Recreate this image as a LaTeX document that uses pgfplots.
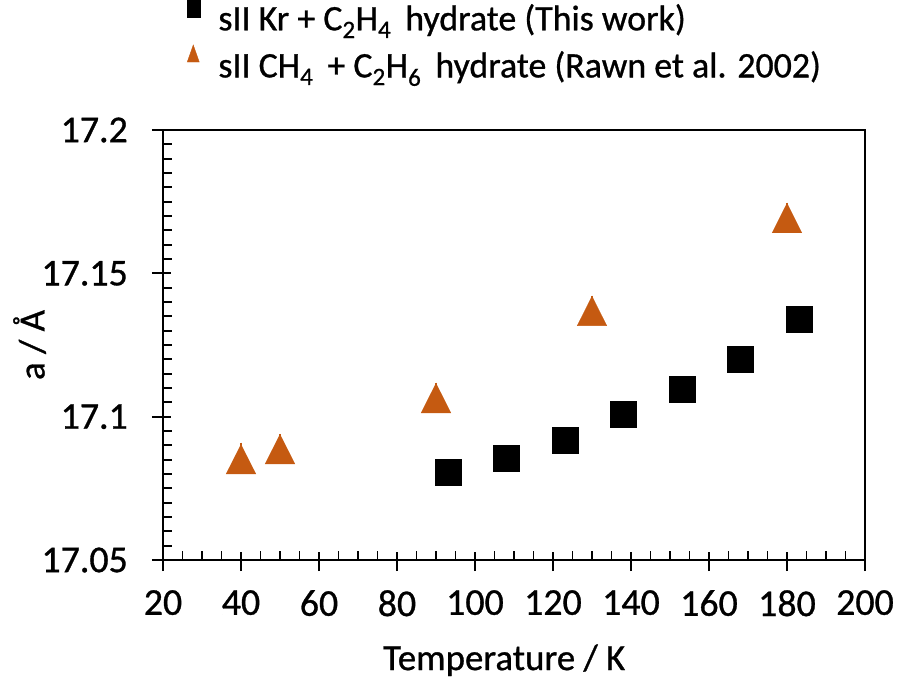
\documentclass[border=0pt]{standalone}
\usepackage{fontspec}
\setmainfont{Carlito}[UprightFeatures={FakeBold=0.8}]
\usepackage{pgfplots}
\pgfplotsset{compat=1.18}
\definecolor{exorange}{RGB}{197,90,17}
\begin{document}
\begin{tikzpicture}
\path[use as bounding box] (-163bp,-119bp) rectangle (735bp,560bp);
\begin{axis}[
  at={(0,0)}, anchor=south west,
  scale only axis, width=702bp, height=430bp,
  xmin=20, xmax=200, ymin=17.05, ymax=17.2,
  xtick={20,40,...,200},
  ytick={17.05,17.1,17.15,17.2},
  yticklabels={17.05,17.1,17.15,17.2},
  minor x tick num=3, minor y tick num=9,
  xtick pos=bottom, ytick pos=left,
  tick align=inside,
  major tick length=19bp, minor tick length=9bp,
  every major y tick/.append style={xshift=-11bp},
  every major x tick/.append style={yshift=-11bp},
  tick style={line width=1.8bp, black},
  axis line style={line width=2.8bp},
  /pgf/number format/assume math mode=true,
  tick label style={font=\fontsize{38}{40}\selectfont, inner sep=0pt},
  xticklabel style={anchor=north, yshift=-30bp},
  yticklabel style={anchor=east, xshift=-35bp},
  xlabel={Temperature / K},
  ylabel={a / Å},
  label style={font=\fontsize{37}{40}\selectfont},
  xlabel style={at={(axis description cs:0.486,-0.256)}, anchor=base},
  ylabel style={at={(axis description cs:-0.19,0.5)}, anchor=center},
  legend style={at={(axis description cs:0.034,1.308)}, anchor=north west,
    draw=none, fill=none, font=\fontsize{36}{40}\selectfont,
    inner sep=0pt, row sep=11bp,
    /tikz/every odd column/.append style={column sep=16bp}},
  legend cell align=left,
  clip=false,
]
\addplot[only marks, mark=square*, mark size=13bp, black,
  legend image code/.code={\fill[black] (0bp,1bp) rectangle (13bp,20bp);}]
  coordinates {(93,17.0807) (108,17.0856) (123,17.0919) (138,17.1009) (153,17.1097) (168,17.1201) (183,17.1341)};
\addlegendentry{sII Kr + C\textsubscript{2}H\textsubscript{4}\, hydrate (This work)}
\addplot[only marks, mark=triangle*, mark size=17bp, exorange, draw=exorange,
  mark options={yshift=-5bp, yscale=1.15},
  legend image code/.code={\fill[exorange] (0bp,3bp) -- (12bp,3bp) -- (6bp,20bp) -- cycle;},
  error bars/.cd, y dir=plus, y explicit, error mark=-,
  error mark options={mark size=9bp, line width=1.5bp, exorange},
  error bar style={line width=1.5bp, exorange}]
  coordinates {(40,17.0852) +- (0,0.0026) (50,17.0887) +- (0,0.0022) (90,17.1065) +- (0,0.0022) (130,17.1369) +- (0,0.0022) (180,17.1693) +- (0,0.0022)};
\addlegendentry{sII CH\textsubscript{4}\, + C\textsubscript{2}H\textsubscript{6}\, hydrate (Rawn et al. 2002)}
\end{axis}
\end{tikzpicture}
\end{document}
